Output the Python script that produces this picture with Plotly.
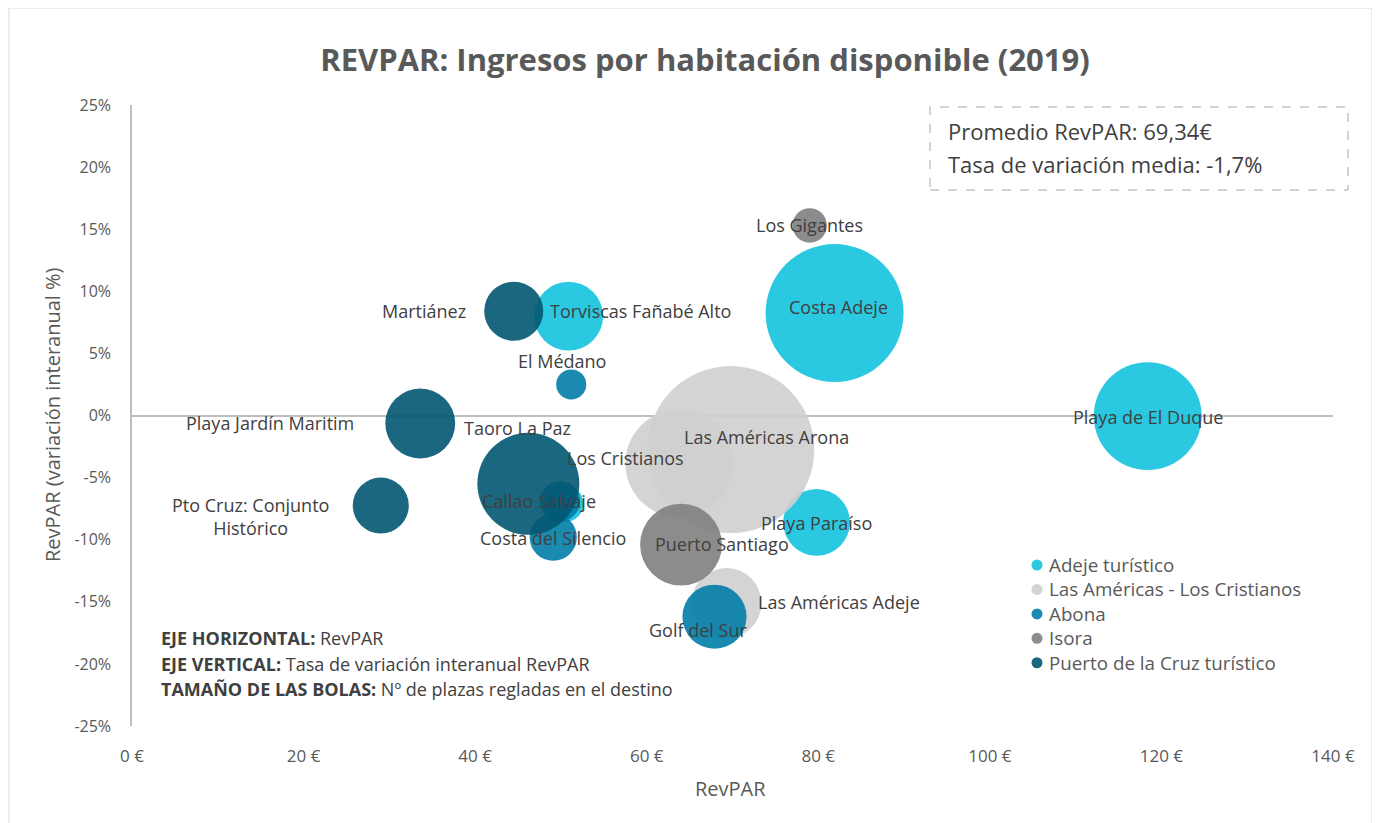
import plotly.graph_objects as go

# ---------------- data ----------------
groups = ["Adeje turístico", "Las Américas - Los Cristianos", "Abona", "Isora",
          "Puerto de la Cruz turístico"]

names = ["Costa Adeje", "Playa de El Duque", "Torviscas Fañabé Alto", "Callao Salvaje",
         "Playa Paraíso",
         "Las Américas Arona", "Los Cristianos", "Las Américas Adeje",
         "El Médano", "Costa del Silencio", "Golf del Sur", "",
         "Los Gigantes", "Puerto Santiago",
         "Martiánez", "Playa Jardín Maritim", "Taoro La Paz", "Pto Cruz: Conjunto<br>Histórico"]
group_of = [0, 0, 0, 0, 0,
            1, 1, 1,
            2, 2, 2, 2,
            3, 3,
            4, 4, 4, 4]
revpar = [81.9, 118.4, 50.9, 50.5, 79.8,
          69.8, 63.8, 69.3,
          51.2, 49.1, 67.9, 49.9,
          79.0, 64.0,
          44.5, 33.6, 46.2, 29.0]
variacion = [8.25, -0.05, 8.0, -7.1, -8.6,
             -2.74, -3.86, -15.1,
             2.5, -9.8, -16.2, -6.9,
             15.3, -10.4,
             8.4, -0.64, -5.5, -7.25]
plazas = [27300, 16700, 6800, 1900, 6400,
          40000, 16700, 7000,
          1300, 3200, 5900, 2300,
          1700, 9600,
          5000, 7000, 14900, 4500]

x_ticks = [0, 20, 40, 60, 80, 100, 120, 140]
x_ticktext = ["0 €", "20 €", "40 €", "60 €", "80 €", "100 €", "120 €", "140 €"]
y_ticks = [-25, -20, -15, -10, -5, 0, 5, 10, 15, 20, 25]
y_ticktext = ["-25%", "-20%", "-15%", "-10%", "-5%", "0%", "5%", "10%", "15%", "20%", "25%"]

info_lines = ["Promedio RevPAR: 69,34€", "Tasa de variación media: -1,7%"]
note_lines = ["<b>EJE HORIZONTAL:</b> RevPAR",
              "<b>EJE VERTICAL:</b> Tasa de variación interanual RevPAR",
              "<b>TAMAÑO DE LAS BOLAS:</b> Nº de plazas regladas en el destino"]

# ---------------- styles ----------------
colors = ["#13C3DE", "#D0CFD0", "#017DA7", "#7F7F7F", "#025772"]
# label offsets in px (dx, dy up)
label_offsets = [(4, 6), (0, -1), (72, 5), (-26, 3), (0, -1),
                 (36, 13), (-54, 5), (112, 1),
                 (-9, 23), (0, -1), (-16, -13), None,
                 (0, 0), (41, 1),
                 (-90, 0), (-150, 0), (-11, 56), (-130, -11)]

FONT = "Open Sans"
OFF = 8  # page body margin
W, H = 1380 - OFF, 823 - OFF
L, T = 132 - OFF, 105 - OFF
R = W - (1333 - OFF)
B = H - (726 - OFF)
PW, PH = W - L - R, H - T - B


def px_x(px):
    return (px - OFF - L) / PW


def px_y(py):
    return (H - B - (py - OFF)) / PH


fig = go.Figure()
max_r = 83.5
sizeref = max(plazas) / (2 * max_r ** 2)

for g, gname in enumerate(groups):
    idx = [i for i, gi in enumerate(group_of) if gi == g]
    fig.add_trace(go.Scatter(
        x=[revpar[i] for i in idx], y=[variacion[i] for i in idx],
        mode="markers", name=gname, showlegend=False,
        text=[names[i] for i in idx],
        marker=dict(size=[plazas[i] for i in idx], sizemode="area", sizeref=sizeref,
                    color=colors[g], opacity=0.9, line=dict(width=0)),
        hovertemplate="%{text}<br>%{x:.1f} €<br>%{y:.1f}%<extra></extra>",
    ))

annotations = []
shapes = []
for i, n in enumerate(names):
    if not n or label_offsets[i] is None:
        continue
    dx, dy = label_offsets[i]
    annotations.append(dict(x=revpar[i], y=variacion[i], xref="x", yref="y", text=n,
                            showarrow=False, xshift=dx, yshift=dy,
                            xanchor="center", yanchor="middle",
                            font=dict(family=FONT, size=18, color="#404040")))

# manual legend (markers + one multi-line text block)
leg_size = 18.8
leg_step = leg_size * 1.3
leg_top = 565
for g, gname in enumerate(groups):
    shapes.append(dict(type="circle", xref="paper", yref="paper",
                       xsizemode="pixel", ysizemode="pixel",
                       xanchor=px_x(1037), yanchor=px_y(leg_top + g * leg_step),
                       x0=-5.5, x1=5.5, y0=-5.5, y1=5.5,
                       fillcolor=colors[g], opacity=0.9, line=dict(width=0)))
annotations.append(dict(x=px_x(1047), y=px_y(leg_top + 2 * leg_step), xref="paper", yref="paper",
                        xanchor="left", yanchor="middle", align="left", showarrow=False,
                        text="<br>".join(groups),
                        font=dict(family=FONT, size=leg_size, color="#595959")))

# info box
for line, yy in zip(info_lines, [131, 164]):
    annotations.append(dict(
        x=px_x(946), y=px_y(yy), xref="paper", yref="paper", xanchor="left", yanchor="middle",
        align="left", showarrow=False, text=line,
        font=dict(family=FONT, size=22, color="#404040")))
# notes
for line, yy in zip(note_lines, [638, 663.5, 689]):
    annotations.append(dict(
        x=px_x(159), y=px_y(yy), xref="paper", yref="paper", xanchor="left", yanchor="middle",
        align="left", showarrow=False, text=line,
        font=dict(family=FONT, size=18, color="#404040")))
# axis titles
annotations.append(dict(x=px_x(730), y=px_y(788), xref="paper", yref="paper", showarrow=False,
                        xanchor="center", yanchor="middle",
                        text="RevPAR", font=dict(family=FONT, size=20, color="#595959")))
annotations.append(dict(x=px_x(52), y=px_y(415), xref="paper", yref="paper", showarrow=False,
                        xanchor="center", yanchor="middle",
                        text="RevPAR (variación interanual %)", textangle=-90,
                        font=dict(family=FONT, size=20, color="#595959")))

shapes += [
    dict(type="rect", xref="paper", yref="paper", x0=px_x(930), x1=px_x(1348),
         y0=px_y(190), y1=px_y(107), line=dict(color="#A6A6A6", width=1, dash="dash")),
    dict(type="rect", xref="paper", yref="paper", x0=px_x(9), x1=px_x(1372),
         y0=px_y(840), y1=px_y(8), line=dict(color="#D9D9D9", width=1)),
]

fig.update_layout(
    width=W, height=H,
    margin=dict(l=L, r=R, t=T, b=B),
    paper_bgcolor="white", plot_bgcolor="white",
    font=dict(family=FONT, color="#595959"),
    title=dict(text="<b>REVPAR: Ingresos por habitación disponible (2019)</b>",
               x=(705 - OFF) / W, xanchor="center", y=1 - (60 - OFF) / H, yanchor="middle",
               font=dict(family=FONT, size=31, color="#595959")),
    xaxis=dict(range=[0, 140], tickvals=x_ticks, ticktext=x_ticktext, showgrid=False,
               zeroline=False, showline=False, ticks="", ticklabelstandoff=18,
               tickfont=dict(family=FONT, size=17, color="#595959")),
    yaxis=dict(range=[-25, 25], tickvals=y_ticks, ticktext=y_ticktext, showgrid=False,
               zeroline=True, zerolinecolor="#BFBFBF", zerolinewidth=1.5,
               showline=True, linecolor="#BFBFBF", linewidth=1.5, ticks="",
               ticklabelstandoff=16,
               tickfont=dict(family=FONT, size=16, color="#595959")),
    annotations=annotations, shapes=shapes,
    showlegend=False,
)

fig.write_html("out.html")
